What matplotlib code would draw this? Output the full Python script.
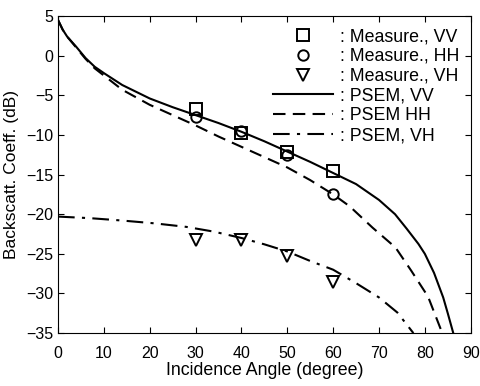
import numpy as np
import matplotlib.pyplot as plt

plt.rcParams["font.family"] = ["Liberation Sans", "DejaVu Sans"]

# PSEM model curves
vv_ang = [0, 1, 2, 4, 6, 8, 10, 14, 20, 25, 30, 35, 40, 45, 50, 55, 60, 65,
          70, 73.5, 76, 78.6, 80, 82, 84, 85, 86.2]
vv_db = [4.5, 3.3, 2.4, 1.1, -0.3, -1.4, -2.2, -3.7, -5.4, -6.5, -7.5, -8.5,
         -9.6, -10.8, -12.1, -13.4, -14.8, -16.2, -18.2, -20.0, -21.8, -23.75,
         -25.0, -27.4, -30.5, -32.5, -35.0]

hh_ang = [0, 1, 2, 4, 6, 8, 10, 14, 20, 25, 30, 35, 40, 45, 50, 55, 60, 63.6,
          68.6, 73.6, 77, 80.7, 83.8]
hh_db = [4.5, 3.3, 2.4, 1.0, -0.4, -1.6, -2.5, -4.3, -6.2, -7.5, -8.8, -10.2,
         -11.5, -12.8, -14.1, -15.7, -17.5, -19.0, -21.7, -24.2, -27.1, -30.4,
         -35.0]

vh_ang = [0, 7, 14, 21, 28, 34, 40, 45, 50, 55, 60, 65, 70, 74, 77.5]
vh_db = [-20.3, -20.5, -20.8, -21.15, -21.6, -22.2, -23.0, -23.8, -24.7,
         -25.9, -27.0, -28.7, -30.5, -32.4, -35.0]

# measurements
meas_ang = [30, 40, 50, 60]
meas_vv = [-6.7, -9.8, -12.2, -14.6]
meas_hh = [-7.8, -9.5, -12.5, -17.5]
meas_vh = [-23.3, -23.2, -25.3, -28.5]


def main():
    fig = plt.figure(figsize=(4.81, 3.86), dpi=100)
    ax = fig.add_axes([0.1206, 0.137, 0.858, 0.8215])

    mk = dict(linestyle="none", color="black", mfc="none", mew=1.4)
    ax.plot(meas_ang, meas_vv, marker="s", ms=8, label=": Measure., VV", **mk)
    ax.plot(meas_ang, meas_hh, marker="o", ms=7.5, label=": Measure., HH", **mk)
    ax.plot(meas_ang, meas_vh, marker="v", ms=8.5, label=": Measure., VH", **mk)
    ax.plot(vv_ang, vv_db, "k-", lw=1.5, label=": PSEM, VV")
    ax.plot(hh_ang, hh_db, "k--", lw=1.5, dashes=(6, 3.5), label=": PSEM HH")
    ax.plot(vh_ang, vh_db, "k-.", lw=1.5, dashes=(8, 3.5, 1.5, 3.5), label=": PSEM, VH")

    ax.set_xlim(0, 90)
    ax.set_ylim(-35, 5)
    ax.set_xticks(np.arange(0, 91, 10))
    ax.set_yticks(np.arange(-35, 6, 5))
    ax.tick_params(direction="in", top=True, right=True, labelsize=11.5, length=4.5)
    ax.tick_params(axis="x", pad=9)
    ax.set_xlabel("Incidence Angle (degree)", fontsize=12.8, labelpad=1)
    ax.set_ylabel("Backscatt. Coeff. (dB)", fontsize=12.5, labelpad=5)

    ax.legend(loc="upper left", frameon=False, fontsize=12.8, handlelength=3.4,
              handletextpad=0.4, labelspacing=0.16, borderpad=0,
              borderaxespad=0, bbox_to_anchor=(0.52, 0.962))

    fig.savefig("out.png", dpi=100)


if __name__ == "__main__":
    main()
